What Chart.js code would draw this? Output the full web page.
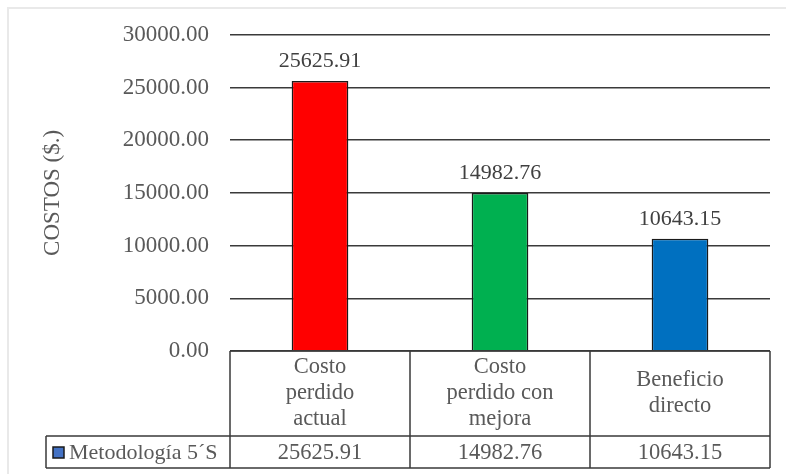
<!DOCTYPE html>
<html>
<head>
<meta charset="utf-8">
<script src="https://cdn.jsdelivr.net/npm/chart.js@4"></script>
<style>
  html, body { margin: 0; padding: 0; background: #fff; overflow: hidden; }
  #frame {
    position: absolute; left: 7px; top: 7px; width: 800px; height: 500px;
    border: 2px solid #e9e9e9; box-sizing: border-box;
  }
  #wrap { position: absolute; left: 0; top: 0; width: 786px; height: 474px; }
</style>
</head>
<body>
<div id="frame"></div>
<div id="wrap"><canvas id="costChart" width="786" height="474"></canvas></div>
<script>
const categories = [
  ["Costo", "perdido", "actual"],
  ["Costo", "perdido con", "mejora"],
  ["Beneficio", "directo"],
];
const seriesName = "Metodología 5´S";
const costValues = [25625.91, 14982.76, 10643.15];
const yTicks = { min: 0, max: 30000, step: 5000 };
const axisTitle = "COSTOS ($.)";

const barColors = ["#ff0000", "#00b050", "#0070c0"];
const FONT = "'Liberation Serif', 'Times New Roman', serif";
const TEXT_GRAY = "#595959";
const LINE = "#3a3a3a";

const valueLabels = {
  id: "valueLabels",
  afterDatasetsDraw(chart) {
    const ctx = chart.ctx;
    const meta = chart.getDatasetMeta(0);
    ctx.save();
    ctx.font = "22px " + FONT;
    ctx.fillStyle = "#404040";
    ctx.textAlign = "center";
    ctx.textBaseline = "alphabetic";
    meta.data.forEach((bar, i) => {
      ctx.fillText(costValues[i].toFixed(2), bar.x, bar.y - 14);
    });
    ctx.restore();
  },
};

const dataTable = {
  id: "dataTable",
  afterDraw(chart) {
    const ctx = chart.ctx;
    const area = chart.chartArea;
    const x = chart.scales.x;
    const step = (area.right - area.left) / categories.length;
    const top = area.bottom;
    const mid = top + 85;
    const bottom = mid + 32;
    const tableLeft = 46;

    ctx.save();
    ctx.strokeStyle = LINE;
    ctx.lineWidth = 1.5;
    ctx.beginPath();
    ctx.moveTo(area.left, top); ctx.lineTo(area.right, top);
    ctx.moveTo(tableLeft, mid); ctx.lineTo(area.right, mid);
    ctx.moveTo(tableLeft, bottom); ctx.lineTo(area.right, bottom);
    ctx.moveTo(tableLeft, mid); ctx.lineTo(tableLeft, bottom);
    for (let i = 0; i <= categories.length; i++) {
      const cx = area.left + step * i;
      ctx.moveTo(cx, top); ctx.lineTo(cx, bottom);
    }
    ctx.stroke();

    ctx.font = "22.5px " + FONT;
    ctx.fillStyle = TEXT_GRAY;
    ctx.textAlign = "center";
    ctx.textBaseline = "middle";
    const lineH = 26;
    categories.forEach((lines, i) => {
      const cx = x.getPixelForValue(i);
      const startY = (top + mid) / 2 - (lines.length - 1) * lineH / 2;
      lines.forEach((t, j) => ctx.fillText(t, cx, startY + j * lineH));
      ctx.fillText(costValues[i].toFixed(2), cx, (mid + bottom) / 2 + 1);
    });

    // legend key
    ctx.fillStyle = "#4472c4";
    ctx.fillRect(53, 447, 11, 11);
    ctx.strokeStyle = "#1a1a1a";
    ctx.lineWidth = 1.5;
    ctx.strokeRect(53, 447, 11, 11);
    ctx.fillStyle = TEXT_GRAY;
    ctx.textAlign = "left";
    ctx.font = "22px " + FONT;
    ctx.fillText(seriesName, 69, (mid + bottom) / 2 + 1);
    ctx.restore();
  },
};

new Chart(document.getElementById("costChart").getContext("2d"), {
  type: "bar",
  data: {
    labels: categories,
    datasets: [
      {
        label: seriesName,
        data: costValues,
        backgroundColor: barColors,
        borderColor: "#1a1a1a",
        borderWidth: 1.5,
        barPercentage: 0.315,
        categoryPercentage: 1,
      },
    ],
  },
  options: {
    responsive: false,
    animation: false,
    layout: { padding: { top: 32, right: 16, bottom: 123, left: 0 } },
    plugins: { legend: { display: false }, tooltip: { enabled: false } },
    scales: {
      x: { display: false },
      y: {
        min: yTicks.min,
        max: yTicks.max,
        afterFit: (s) => { s.width = 230; },
        border: { display: false },
        grid: { color: LINE, lineWidth: 1.5, drawTicks: false },
        ticks: {
          stepSize: yTicks.step,
          padding: 21,
          color: TEXT_GRAY,
          font: { family: FONT, size: 23 },
          callback: (v) => v.toFixed(2),
        },
        title: {
          display: true,
          text: axisTitle,
          color: TEXT_GRAY,
          font: { family: FONT, size: 23 },
          padding: { top: 39, bottom: 0 },
        },
      },
    },
  },
  plugins: [valueLabels, dataTable],
});
</script>
</body>
</html>
